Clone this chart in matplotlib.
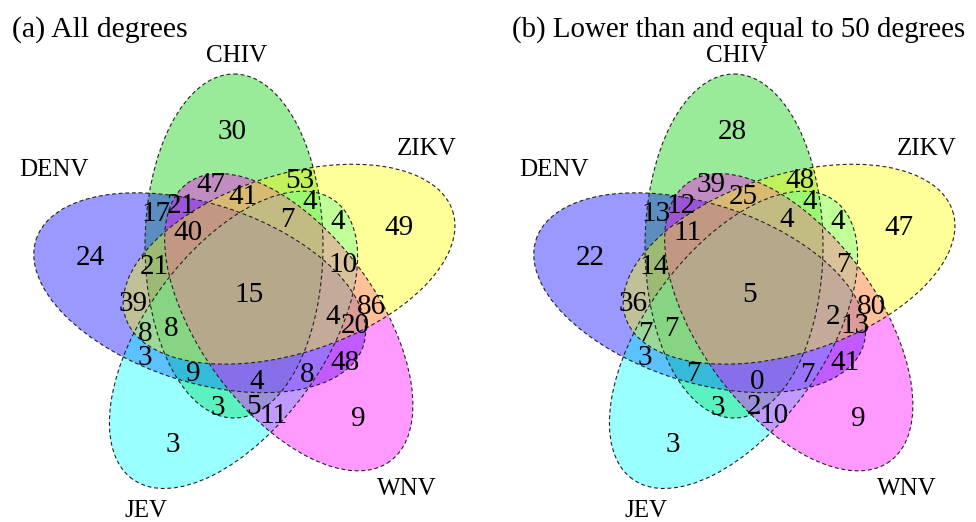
import numpy as np
import matplotlib.pyplot as plt
from matplotlib.patches import Ellipse

plt.rcParams['font.family'] = ['Liberation Serif', 'DejaVu Serif']

# the five sets, drawn in this order
set_names = ["CHIV", "DENV", "JEV", "WNV", "ZIKV"]
set_colors = ["#00CD00", "#0000FF", "#00FFFF", "#FF00FF", "#FFFF00"]
set_steps = [0, 4, 3, 2, 1]  # place around the centre, clockwise from the top

# regions of the Venn diagram and their counts
regions = [
    "CHIV", "DENV", "JEV", "WNV", "ZIKV",
    "CHIV&DENV", "CHIV&JEV", "CHIV&WNV", "CHIV&ZIKV", "DENV&JEV",
    "DENV&WNV", "DENV&ZIKV", "JEV&WNV", "JEV&ZIKV", "WNV&ZIKV",
    "CHIV&DENV&JEV", "CHIV&DENV&WNV", "CHIV&DENV&ZIKV", "CHIV&JEV&WNV",
    "CHIV&JEV&ZIKV", "CHIV&WNV&ZIKV", "DENV&JEV&WNV", "DENV&JEV&ZIKV",
    "DENV&WNV&ZIKV", "JEV&WNV&ZIKV",
    "CHIV&DENV&JEV&WNV", "CHIV&DENV&JEV&ZIKV", "CHIV&DENV&WNV&ZIKV",
    "CHIV&JEV&WNV&ZIKV", "DENV&JEV&WNV&ZIKV",
    "CHIV&DENV&JEV&WNV&ZIKV",
]
counts_all = [30, 24, 3, 9, 49,
              17, 3, 47, 53, 3, 48, 39, 11, 4, 86,
              9, 21, 21, 5, 4, 41, 8, 8, 20, 10,
              4, 8, 40, 7, 4,
              15]
counts_low = [28, 22, 3, 9, 47,
              13, 3, 39, 48, 3, 41, 36, 10, 4, 80,
              7, 12, 14, 2, 4, 25, 7, 7, 13, 7,
              0, 7, 11, 4, 2,
              5]

# layout: label positions in pixels inside one panel
label_xy = [
    (232, 130), (90, 256), (173, 443), (358, 417), (399, 226),
    (156, 212), (218, 406), (211, 183), (300, 179), (145, 356),
    (345, 361), (133, 302), (274, 414), (338, 220), (371, 305),
    (193, 372), (181, 204), (154, 265), (254, 405), (310, 200),
    (243, 195), (307, 373), (145, 332), (355, 324), (343, 263),
    (257, 380), (171, 327), (188, 231), (287, 218), (333, 315),
    (249, 293),
]
cat_xy = [(237, 56), (54, 170), (146, 511), (407, 489), (427, 149)]
centre = np.array([249.0, 293.0])
offset = np.array([-15.0, -47.0])  # centre of the top ellipse
a, b = 89.0, 172.0                  # semi-axes


def ellipse_params(step):
    t = np.deg2rad(72 * step)
    rot = np.array([[np.cos(t), -np.sin(t)], [np.sin(t), np.cos(t)]])
    return centre + rot @ offset, 72 * step


fig = plt.figure(figsize=(9.76, 5.22), dpi=100)
ax = fig.add_axes([0, 0, 1, 1])
ax.set_xlim(0, 976)
ax.set_ylim(522, 0)
ax.axis('off')

panels = [(0, "(a) All degrees", counts_all, 21.5),
          (500, "(b) Lower than and equal to 50 degrees", counts_low, 20.8)]

for dx, title, counts, tsize in panels:
    shift = np.array([dx, 0])
    params = [ellipse_params(s) for s in set_steps]
    # fills first, then the dashed outlines on top
    for (c, ang), col in zip(params, set_colors):
        ax.add_patch(Ellipse(c + shift, 2 * a, 2 * b, angle=ang,
                             facecolor=col, alpha=0.4, edgecolor='none'))
    for c, ang in params:
        ax.add_patch(Ellipse(c + shift, 2 * a, 2 * b, angle=ang, fill=False,
                             edgecolor='#222222', lw=0.8, ls=(0, (3.5, 2.5))))
    for (x, y), n in zip(label_xy, counts):
        ax.text(x + dx, y + 2, str(n), ha='center', va='center', fontsize=21)
    for (x, y), nm in zip(cat_xy, set_names):
        ax.text(x + dx, y, nm, ha='center', va='center', fontsize=18)
    ax.text(12 + dx, 37, title, ha='left', va='baseline', fontsize=tsize)

fig.savefig('out.png', dpi=100)
